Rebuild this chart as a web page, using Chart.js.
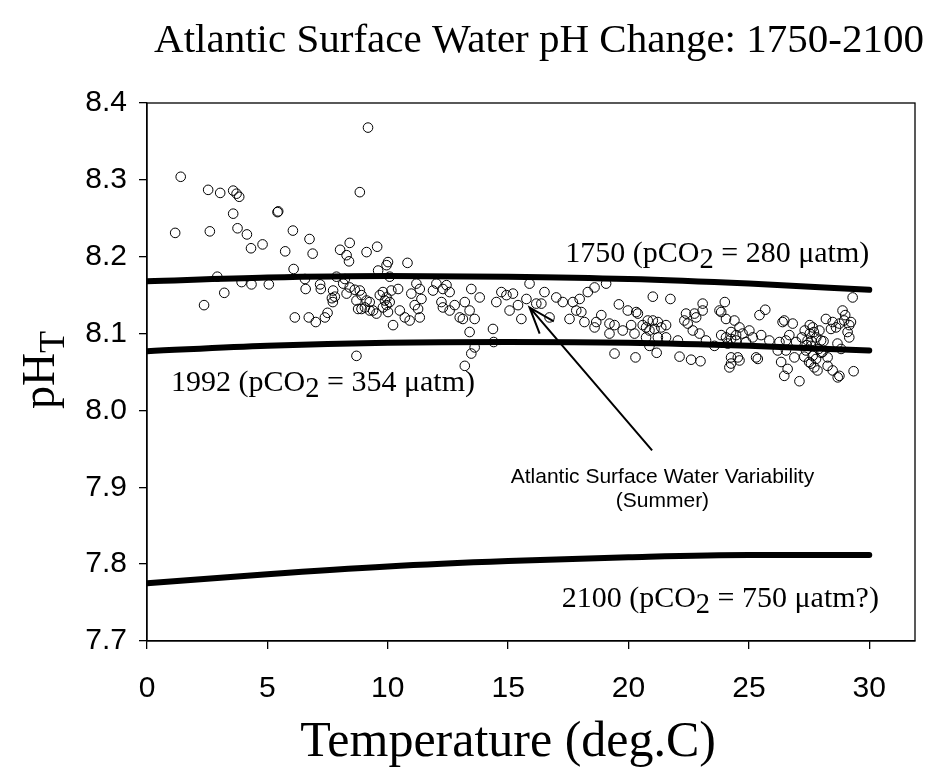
<!DOCTYPE html>
<html>
<head>
<meta charset="utf-8">
<script src="https://cdn.jsdelivr.net/npm/chart.js@4.4.1/dist/chart.umd.min.js"></script>
<style>
  html, body { margin: 0; padding: 0; background: #fff; }
  #grafica { display: block; }
</style>
</head>
<body>
<canvas id="grafica" width="936" height="771"></canvas>
<script>
// Observaciones de verano (temperatura, pH)
const obsTemp = [
  1.40, 2.54, 3.04, 3.58, 3.72, 3.83, 5.42, 5.45, 3.58, 1.17,
  2.61, 3.76, 4.15, 6.06, 6.75, 4.32, 4.80, 5.74, 6.88, 8.02,
  6.09, 2.92, 3.93, 4.34, 5.06, 6.56, 6.59, 7.19, 7.22, 7.87,
  3.21, 2.37, 6.14, 6.72, 7.01, 7.39, 7.50, 7.68, 7.80, 7.72,
  9.18, 8.84, 7.73, 8.22, 8.29, 8.63, 8.84, 8.70, 8.91, 9.12,
  9.25, 9.53, 9.67, 9.88, 9.95, 10.15, 10.22, 9.60, 10.01, 9.95,
  9.56, 9.12, 8.42, 8.29, 8.39, 10.82, 10.08, 8.15, 8.42, 8.91,
  9.05, 8.77, 9.25, 9.39, 9.80, 9.95, 10.08, 9.80, 10.01, 10.43,
  10.50, 10.71, 10.91, 10.98, 11.19, 11.33, 11.12, 11.26, 11.40, 11.33,
  12.02, 11.88, 12.29, 12.44, 12.57, 12.23, 12.29, 12.57, 12.78, 12.99,
  13.12, 13.20, 13.40, 13.61, 13.47, 13.82, 13.40, 14.37, 14.40, 13.61,
  13.47, 13.20, 8.70, 14.72, 14.51, 14.93, 15.20, 15.06, 15.41, 15.55,
  15.76, 15.89, 16.17, 16.51, 16.38, 16.72, 17.00, 17.27, 17.69, 17.97,
  17.83, 18.04, 17.55, 18.17, 18.31, 18.59, 19.07, 18.87, 18.66, 18.59,
  19.21, 19.42, 19.21, 19.60, 19.97, 20.32, 20.39, 20.11, 19.76, 20.25,
  20.59, 20.80, 21.01, 21.22, 20.87, 21.08, 21.36, 21.56, 20.73, 20.87,
  21.22, 21.56, 21.01, 21.74, 19.42, 20.29, 21.17, 22.05, 22.12, 22.60,
  22.99, 22.39, 22.74, 22.81, 23.08, 23.08, 22.46, 22.67, 22.95, 23.22,
  23.57, 23.78, 24.00, 24.05, 23.85, 24.05, 24.26, 24.47, 24.26, 24.26,
  24.54, 22.32, 20.73, 23.85, 24.40, 24.61, 24.26, 24.12, 24.47, 24.74,
  25.02, 25.16, 24.88, 25.51, 25.85, 25.44, 25.68, 24.61, 24.19, 25.37,
  25.30, 26.27, 26.40, 26.47, 26.82, 26.68, 26.54, 26.96, 26.20, 26.54,
  26.34, 26.61, 26.47, 27.10, 26.89, 27.32, 27.53, 27.44, 27.37, 27.65,
  27.53, 27.58, 27.65, 27.79, 27.58, 27.72, 27.85, 28.00, 27.93, 28.06,
  28.27, 28.27, 28.48, 28.69, 28.76, 28.20, 28.48, 28.62, 28.41, 28.76,
  28.96, 28.89, 29.00, 29.17, 29.24, 29.10, 29.17, 29.31, 29.35, 28.68,
  28.83, 27.20, 27.40, 27.80, 28.00, 27.60, 27.90, 27.30, 28.10, 27.70,
  27.50
];
const obsPH = [
  8.304, 8.287, 8.283, 8.286, 8.282, 8.278, 8.258, 8.259, 8.256, 8.231,
  8.233, 8.237, 8.229, 8.234, 8.223, 8.211, 8.216, 8.207, 8.204, 8.209,
  8.184, 8.174, 8.167, 8.164, 8.164, 8.171, 8.158, 8.164, 8.158, 8.174,
  8.153, 8.137, 8.121, 8.121, 8.115, 8.121, 8.127, 8.146, 8.148, 8.141,
  8.368, 8.284, 8.156, 8.171, 8.152, 8.157, 8.156, 8.143, 8.132, 8.143,
  8.130, 8.126, 8.150, 8.143, 8.137, 8.156, 8.111, 8.182, 8.193, 8.189,
  8.213, 8.206, 8.218, 8.202, 8.194, 8.192, 8.174, 8.165, 8.160, 8.150,
  8.134, 8.132, 8.141, 8.130, 8.154, 8.147, 8.141, 8.134, 8.128, 8.158,
  8.130, 8.121, 8.117, 8.152, 8.165, 8.158, 8.137, 8.132, 8.145, 8.121,
  8.165, 8.156, 8.158, 8.163, 8.154, 8.141, 8.134, 8.130, 8.137, 8.121,
  8.119, 8.141, 8.130, 8.119, 8.158, 8.147, 8.102, 8.106, 8.089, 8.082,
  8.074, 8.058, 8.071, 8.154, 8.141, 8.150, 8.152, 8.130, 8.137, 8.119,
  8.145, 8.165, 8.139, 8.154, 8.139, 8.121, 8.147, 8.141, 8.141, 8.145,
  8.130, 8.128, 8.119, 8.115, 8.154, 8.160, 8.165, 8.124, 8.115, 8.108,
  8.113, 8.111, 8.100, 8.138, 8.130, 8.128, 8.126, 8.111, 8.104, 8.100,
  8.111, 8.117, 8.117, 8.115, 8.104, 8.106, 8.108, 8.111, 8.095, 8.084,
  8.095, 8.095, 8.148, 8.145, 8.074, 8.069, 8.075, 8.091, 8.070, 8.066,
  8.064, 8.126, 8.126, 8.121, 8.139, 8.130, 8.113, 8.104, 8.100, 8.091,
  8.084, 8.130, 8.141, 8.119, 8.098, 8.095, 8.093, 8.098, 8.069, 8.061,
  8.069, 8.117, 8.108, 8.128, 8.117, 8.108, 8.102, 8.087, 8.091, 8.100,
  8.104, 8.095, 8.089, 8.098, 8.091, 8.124, 8.131, 8.065, 8.056, 8.067,
  8.069, 8.089, 8.115, 8.117, 8.113, 8.098, 8.091, 8.089, 8.078, 8.078,
  8.063, 8.054, 8.045, 8.038, 8.069, 8.104, 8.111, 8.091, 8.078, 8.108,
  8.100, 8.084, 8.071, 8.067, 8.061, 8.056, 8.052, 8.091, 8.104, 8.076,
  8.069, 8.058, 8.052, 8.043, 8.045, 8.119, 8.115, 8.108, 8.106, 8.113,
  8.117, 8.130, 8.124, 8.111, 8.115, 8.102, 8.095, 8.147, 8.051, 8.087,
  8.080, 8.095, 8.085, 8.095, 8.075, 8.090, 8.080, 8.070, 8.090, 8.102,
  8.063
];

// Curvas de equilibrio segun pCO2
const curveTemp = [0, 5, 10, 15, 20, 25, 30];
const ph1750 = [8.168, 8.173, 8.175, 8.174, 8.171, 8.165, 8.157];
const ph1992 = [8.077, 8.084, 8.088, 8.089, 8.088, 8.084, 8.078];
const ph2100 = [7.775, 7.787, 7.797, 7.804, 7.809, 7.812, 7.812];

const xTicks = [0, 5, 10, 15, 20, 25, 30];
const yTicks = [7.7, 7.8, 7.9, 8.0, 8.1, 8.2, 8.3, 8.4];

const SERIF = '"Liberation Serif", "Times New Roman", serif';
const SANS = '"Liberation Sans", Arial, sans-serif';

const puntos = obsTemp.map((t, i) => ({ x: t, y: obsPH[i] }));
const curva = arr => curveTemp.map((t, i) => ({ x: t, y: arr[i] }));

function lineaCurva(arr) {
    return {
        type: 'line', data: curva(arr), order: 0,
        borderColor: '#000', borderWidth: 6, borderCapStyle: 'round',
        cubicInterpolationMode: 'monotone', pointRadius: 0, fill: false
    };
}

// Texto con el "2" de pCO2 como subindice
function textoSub(ctx, partes, x, y, align, size) {
    let ancho = 0;
    partes.forEach(p => {
        ctx.font = (p.sub ? size * 0.95 : size) + 'px ' + SERIF;
        ancho += ctx.measureText(p.t).width;
    });
    let cx = align === 'right' ? x - ancho : x;
    ctx.textAlign = 'left';
    ctx.textBaseline = 'alphabetic';
    partes.forEach(p => {
        ctx.font = (p.sub ? size * 0.95 : size) + 'px ' + SERIF;
        ctx.fillText(p.t, cx, p.sub ? y + 6 : y);
        cx += ctx.measureText(p.t).width;
    });
}

const decoracion = {
    id: 'decoracion',
    afterDraw(chart) {
        const ctx = chart.ctx;
        const a = chart.chartArea;
        const sx = chart.scales.x, sy = chart.scales.y;
        ctx.save();
        ctx.strokeStyle = '#000';
        ctx.lineWidth = 1.3;
        ctx.strokeRect(a.left, a.top, a.right - a.left, a.bottom - a.top);
        ctx.fillStyle = '#000';

        // titulo
        ctx.font = '41px ' + SERIF;
        ctx.textAlign = 'center';
        ctx.textBaseline = 'alphabetic';
        ctx.fillText('Atlantic Surface Water pH Change: 1750-2100', 539, 52);

        // titulo eje x
        ctx.font = '50px ' + SERIF;
        ctx.fillText('Temperature (deg.C)', (sx.getPixelForValue(0) + sx.getPixelForValue(30)) / 2, 756);

        // titulo eje y: pH con subindice T
        ctx.save();
        ctx.translate(54, 370);
        ctx.rotate(-Math.PI / 2);
        ctx.textAlign = 'left';
        ctx.font = '46px ' + SERIF;
        const wPH = ctx.measureText('pH').width;
        ctx.font = '36px ' + SERIF;
        const wT = ctx.measureText('T').width;
        const x0 = -(wPH + wT) / 2;
        ctx.font = '46px ' + SERIF;
        ctx.fillText('pH', x0, 0);
        ctx.font = '36px ' + SERIF;
        ctx.fillText('T', x0 + wPH, 10);
        ctx.restore();

        // etiquetas de las curvas
        textoSub(ctx, [{ t: '1750 (pCO' }, { t: '2', sub: true }, { t: ' = 280 \u03bcatm)' }],
            sx.getPixelForValue(30), sy.getPixelForValue(8.193), 'right', 30);
        textoSub(ctx, [{ t: '1992 (pCO' }, { t: '2', sub: true }, { t: ' = 354 \u03bcatm)' }],
            sx.getPixelForValue(1.0), sy.getPixelForValue(8.025), 'left', 30);
        textoSub(ctx, [{ t: '2100 (pCO' }, { t: '2', sub: true }, { t: ' = 750 \u03bcatm?)' }],
            sx.getPixelForValue(30.4), sy.getPixelForValue(7.744), 'right', 30);

        // anotacion con flecha
        ctx.font = '21px ' + SANS;
        ctx.textAlign = 'center';
        const cxA = sx.getPixelForValue(21.41);
        ctx.fillText('Atlantic Surface Water Variability', cxA, sy.getPixelForValue(7.905));
        ctx.fillText('(Summer)', cxA, sy.getPixelForValue(7.875));

        const x1 = sx.getPixelForValue(20.98), y1 = sy.getPixelForValue(7.948);
        const x2 = sx.getPixelForValue(15.89), y2 = sy.getPixelForValue(8.134);
        ctx.lineWidth = 2;
        ctx.beginPath();
        ctx.moveTo(x1, y1);
        ctx.lineTo(x2, y2);
        const ang = Math.atan2(y1 - y2, x1 - x2);
        const largo = 28, abre = 0.34;
        ctx.moveTo(x2 + largo * Math.cos(ang - abre), y2 + largo * Math.sin(ang - abre));
        ctx.lineTo(x2, y2);
        ctx.lineTo(x2 + largo * Math.cos(ang + abre), y2 + largo * Math.sin(ang + abre));
        ctx.stroke();
        ctx.restore();
    }
};

new Chart(document.getElementById('grafica').getContext('2d'), {
    type: 'scatter',
    data: {
        datasets: [
            lineaCurva(ph1750),
            lineaCurva(ph1992),
            lineaCurva(ph2100),
            {
                label: 'Observaciones', data: puntos, order: 1,
                pointStyle: 'circle', pointRadius: 4.8, pointBorderWidth: 1,
                pointBorderColor: '#000', pointBackgroundColor: 'rgba(0,0,0,0)',
                showLine: false
            }
        ]
    },
    options: {
        responsive: false, animation: false,
        layout: { padding: { left: 0, top: 103, right: 21, bottom: 70 } },
        plugins: { legend: { display: false }, tooltip: { enabled: false }, title: { display: false } },
        scales: {
            x: {
                type: 'linear', min: 0, max: 31.9,
                afterBuildTicks: s => { s.ticks = xTicks.map(v => ({ value: v })); },
                afterFit: s => { s.height = 60; },
                ticks: { color: '#000', font: { family: SANS, size: 30 }, padding: 22, maxRotation: 0, autoSkip: false },
                grid: { drawOnChartArea: false, tickLength: 8, color: '#000', lineWidth: 1.3 },
                border: { color: '#000', width: 1.3 }
            },
            y: {
                type: 'linear', min: 7.7, max: 8.4,
                afterBuildTicks: s => { s.ticks = yTicks.map(v => ({ value: v })); },
                afterFit: s => { s.width = 147; },
                ticks: { color: '#000', font: { family: SANS, size: 30 }, padding: 12, autoSkip: false,
                    callback: v => Number(v).toFixed(1) },
                grid: { drawOnChartArea: false, tickLength: 8, color: '#000', lineWidth: 1.3 },
                border: { color: '#000', width: 1.3 }
            }
        }
    },
    plugins: [decoracion]
});
</script>
</body>
</html>
